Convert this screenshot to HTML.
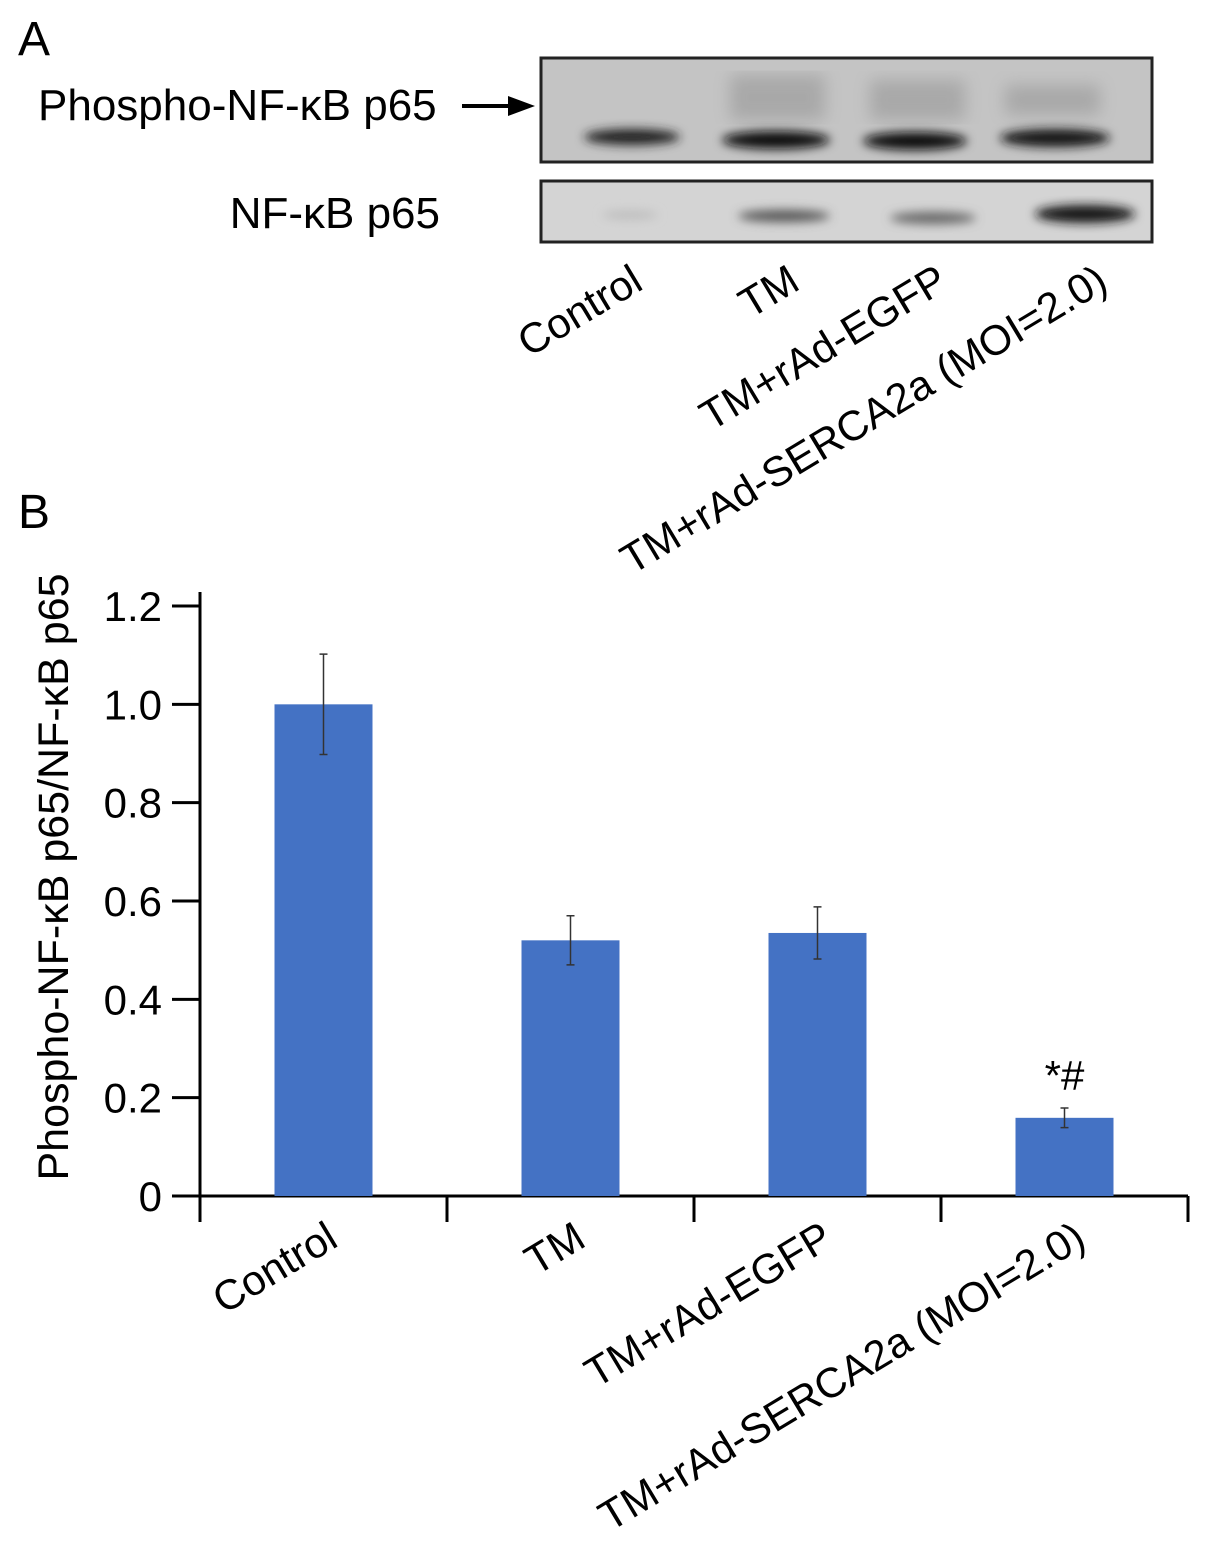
<!DOCTYPE html>
<html><head><meta charset="utf-8"><style>
body{margin:0;background:#fff;}
svg{display:block;font-family:"Liberation Sans",Arial,sans-serif;}
</style></head><body>
<svg id="fig" width="1205" height="1543" viewBox="0 0 1205 1543">
<defs>
<filter id="blur" x="-20%" y="-50%" width="140%" height="200%"><feGaussianBlur stdDeviation="5"/></filter>
<filter id="blur2"><feGaussianBlur stdDeviation="8"/></filter>
</defs>
<text x="18" y="55" font-size="48">A</text>
<text x="38" y="120" font-size="44">Phospho-NF-κB p65</text>
<g><line x1="462" y1="106" x2="515" y2="106" stroke="#000" stroke-width="4"/><polygon points="535,106 508,96 508,116" fill="#000"/></g>
<text x="440" y="228" font-size="44" text-anchor="end">NF-κB p65</text>
<g>
<rect x="541" y="58" width="611" height="104" fill="#c4c4c4" stroke="#222" stroke-width="3"/>
<g filter="url(#blur2)" opacity="0.35"><rect x="730" y="75" width="95" height="45" fill="#777"/><rect x="870" y="80" width="95" height="40" fill="#777"/><rect x="1005" y="85" width="95" height="30" fill="#777"/></g>
<g filter="url(#blur)"><ellipse cx="632" cy="137" rx="48" ry="8" fill="#222"/><ellipse cx="776" cy="140" rx="54" ry="9" fill="#111"/><ellipse cx="915" cy="141" rx="52" ry="9" fill="#111"/><ellipse cx="1055" cy="138" rx="55" ry="9" fill="#151515"/></g>
</g>
<g>
<rect x="541" y="181" width="611" height="61" fill="#d4d4d4" stroke="#222" stroke-width="3"/>
<g filter="url(#blur)"><ellipse cx="630" cy="215" rx="28" ry="4" fill="#bbb"/><ellipse cx="784" cy="216" rx="46" ry="6" fill="#555"/><ellipse cx="933" cy="218" rx="43" ry="6" fill="#666"/><ellipse cx="1085" cy="214" rx="50" ry="9" fill="#151515"/></g>
</g>
<g font-size="42" text-anchor="end">
<text transform="translate(645,288) rotate(-31)">Control</text>
<text transform="translate(802,288) rotate(-31)">TM</text>
<text transform="translate(950,288) rotate(-31)">TM+rAd-EGFP</text>
<text transform="translate(1110,288) rotate(-31)">TM+rAd-SERCA2a (MOI=2.0)</text>
</g>
<text x="18" y="528" font-size="48">B</text>
<text transform="translate(68,877) rotate(-90)" font-size="43" text-anchor="middle">Phospho-NF-κB p65/NF-κB p65</text>
<g id="chart"></g>
</svg>
<script>
const categories=["Control","TM","TM+rAd-EGFP","TM+rAd-SERCA2a (MOI=2.0)"];
const values=[1.0,0.52,0.535,0.159];
const errors=[0.102,0.05,0.053,0.02];
const yTicks=[0,0.2,0.4,0.6,0.8,1.0,1.2];
const yTickLabels=["0","0.2","0.4","0.6","0.8","1.0","1.2"];
const ns="http://www.w3.org/2000/svg";
const g=document.getElementById("chart");
const X0=200,X1=1188,Y0=1196,Y1=606;
const y=v=>Y0-(v/1.2)*(Y0-Y1);
const band=(X1-X0)/categories.length;
const cx=i=>X0+band*(i+0.5);
function mk(t,a){const e=document.createElementNS(ns,t);for(const k in a)e.setAttribute(k,a[k]);g.appendChild(e);return e;}
let ax=mk("line",{x1:X0,y1:Y1-14,x2:X0,y2:Y0,stroke:"#000","stroke-width":3});


let xa=mk("line",{x1:X0,y1:Y0,x2:X1,y2:Y0,stroke:"#000","stroke-width":3});


yTicks.forEach((v,i)=>{
 let t=mk("line",{x1:X0-28,y1:y(v),x2:X0,y2:y(v),stroke:"#000","stroke-width":3});
 
 
 let l=mk("text",{x:X0-38,y:y(v)+15,"font-size":42,"text-anchor":"end"});
 l.textContent=yTickLabels[i];
 
 
});
for(let i=0;i<=categories.length;i++){
 let t=mk("line",{x1:X0+band*i,y1:Y0,x2:X0+band*i,y2:Y0+26,stroke:"#000","stroke-width":3});
 
 
}
const bw=98;
const anchors=[[340,1245],[588,1245],[835,1245],[1088,1245]];
categories.forEach((c,i)=>{
 let b=mk("rect",{x:cx(i)-bw/2,y:y(values[i]),width:bw,height:Y0-y(values[i]),fill:"#4472c4"});
 
 
 let e=mk("path",{d:`M${cx(i)},${y(values[i]+errors[i])}V${y(values[i]-errors[i])}M${cx(i)-4},${y(values[i]+errors[i])}h8M${cx(i)-4},${y(values[i]-errors[i])}h8`,stroke:"#333","stroke-width":1.5,fill:"none"});
 
 
 let l=mk("text",{transform:`translate(${anchors[i][0]},${anchors[i][1]}) rotate(-31)`,"font-size":42,"text-anchor":"end"});
 l.textContent=c;
 
 
});
let s=mk("text",{x:cx(3),y:y(values[3]+errors[3])-18,"font-size":42,"text-anchor":"middle"});
s.textContent="*#";


</script>
</body></html>
